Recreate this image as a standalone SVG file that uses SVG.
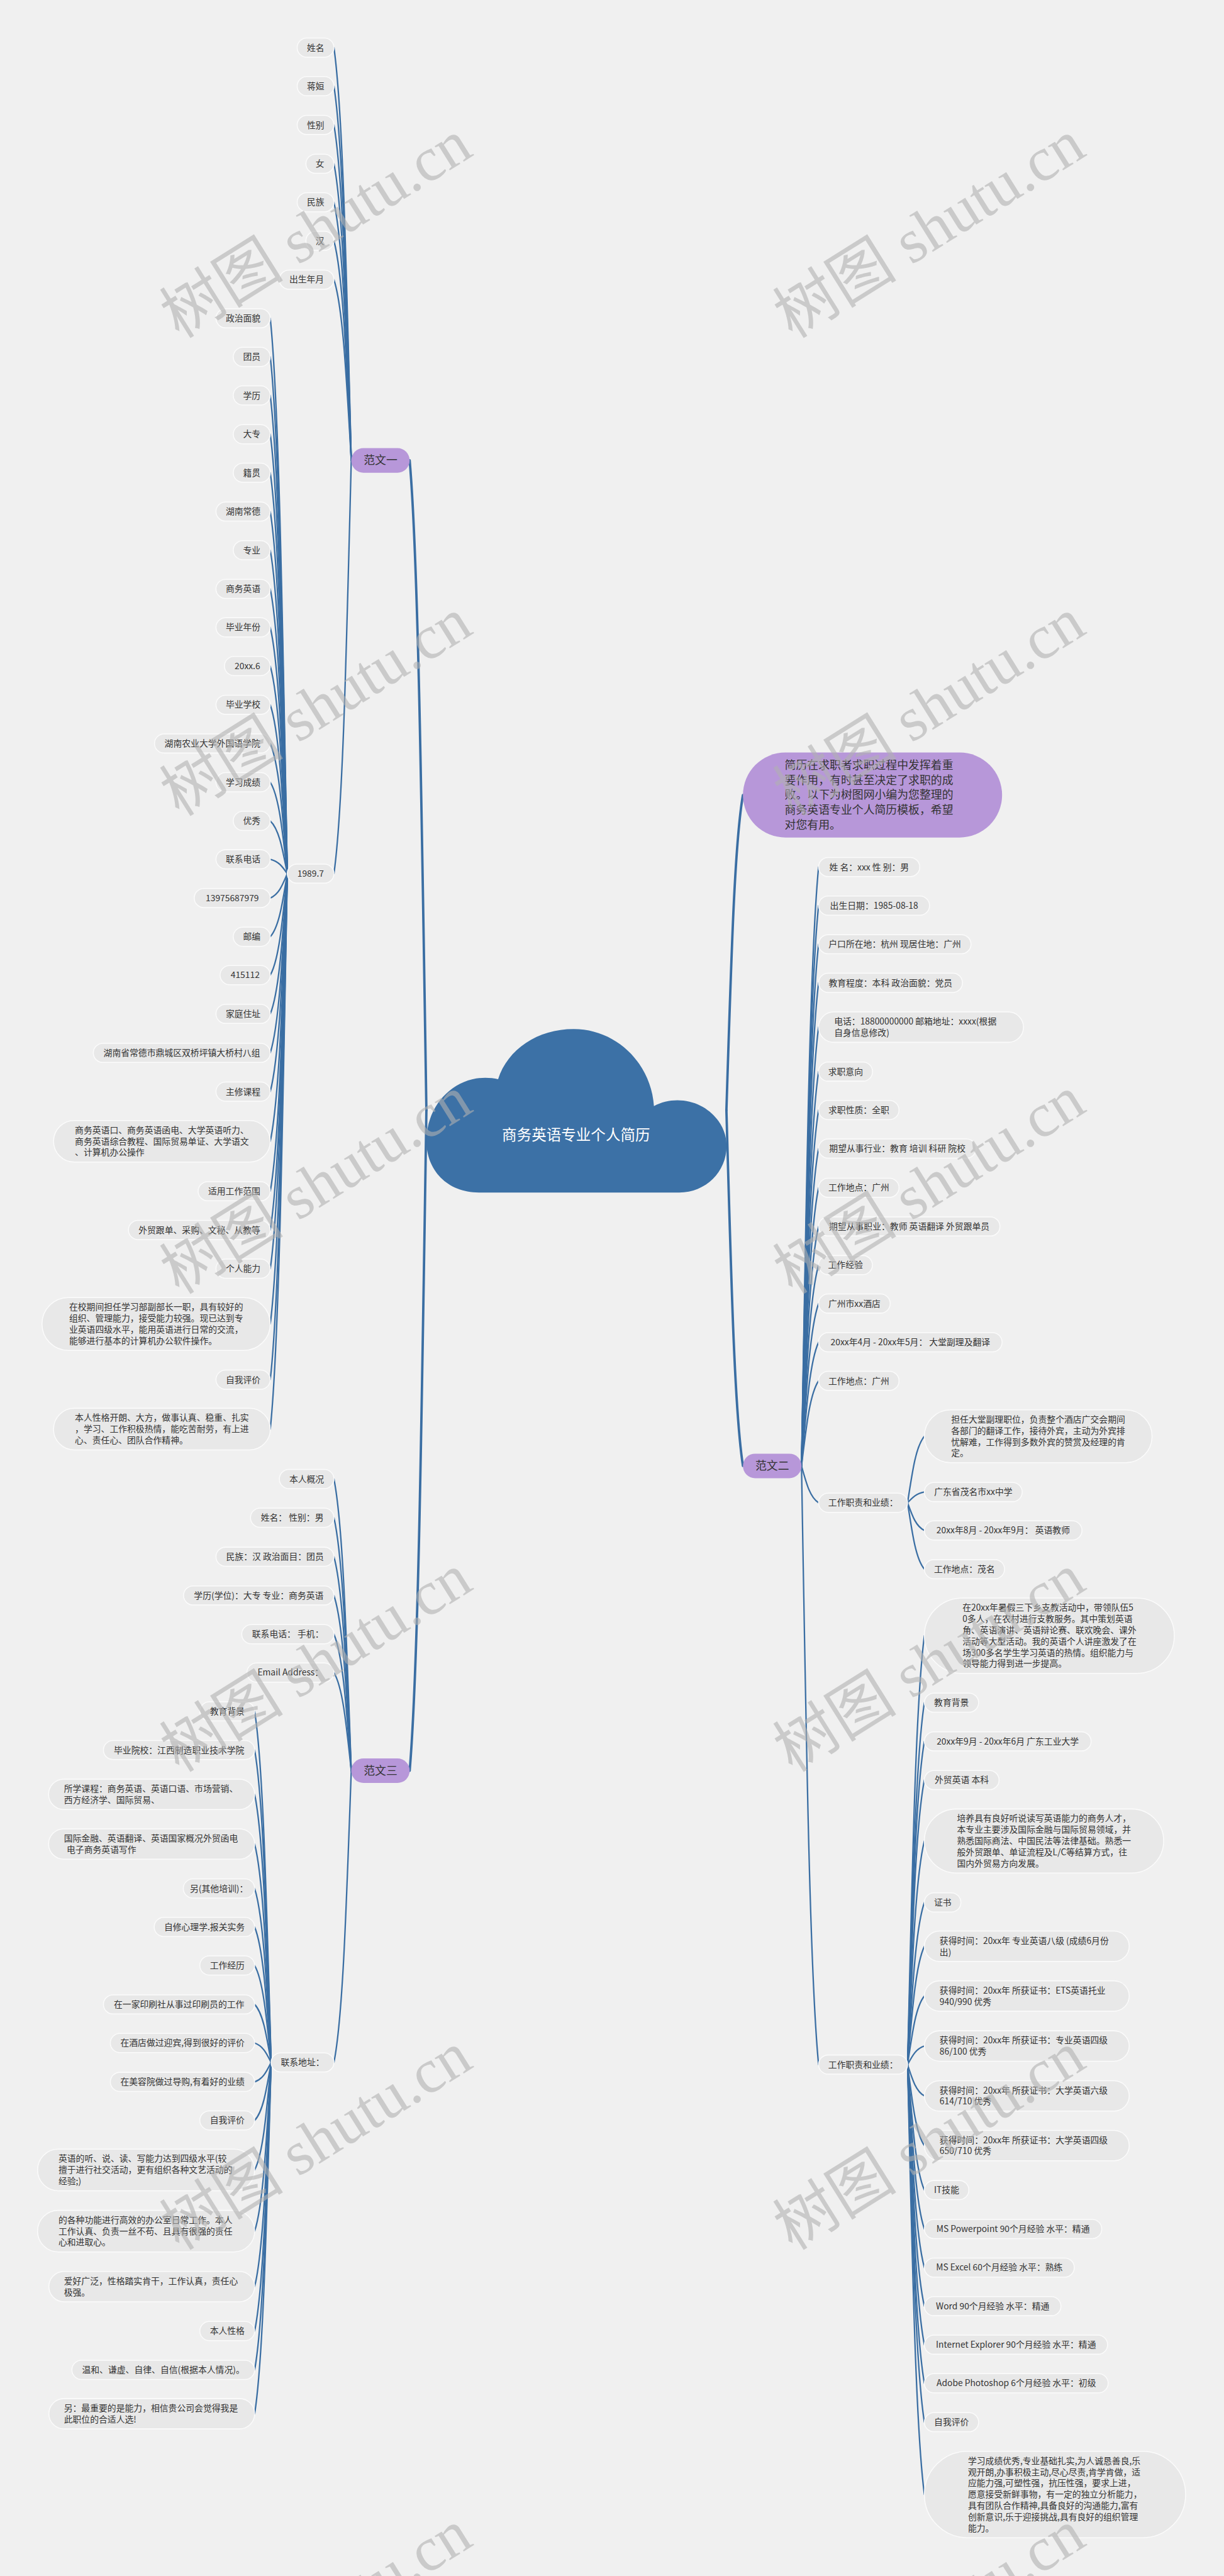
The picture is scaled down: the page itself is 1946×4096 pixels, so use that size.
<svg xmlns="http://www.w3.org/2000/svg" width="1946" height="4096" viewBox="0 0 1946 4096">
<style>
.c{fill:none;stroke:#3a6ea3;stroke-width:3;stroke-linecap:round}
.c0{stroke-width:5}
.p{fill:#e8e8e8;stroke:#fbfbfb;stroke-width:2}
.v{fill:#b797d9}
text{font-family:"Noto Sans CJK SC","Noto Sans",sans-serif;fill:#333}
.t{font-size:18.2px}
.m{text-anchor:middle}
.t1{font-size:23.5px}
.r{font-size:31px;fill:#fff;text-anchor:middle}
.wm{font-family:"Liberation Serif","Noto Sans CJK SC",serif;font-size:130px;fill:#b0b0b0;fill-opacity:.6}
</style>
<rect x="0" y="0" width="1946" height="4096" fill="#f0f0f0"/>
<g transform="scale(0.76)">
<g id="connectors">
<path class="c c0" d="M892 2323 C881.5 1643 874.5 1167 857 963"/>
<path class="c c0" d="M892 2323 C881.5 3013.9 874.5 3497.4 857 3704.7"/>
<path class="c c0" d="M1519.6 2323 C1530 1993.1 1536.9 1762.3 1554.2 1663.3"/>
<path class="c c0" d="M1519.6 2323 C1530 2695 1536.9 2955.4 1554.2 3067"/>
<path class="c" d="M734.8 963 C723.9 531.4 716.7 229.2 698.6 99.7"/>
<path class="c" d="M734.8 963 C723.9 571.7 716.7 297.7 698.6 180.3"/>
<path class="c" d="M734.8 963 C723.9 612.2 716.7 366.6 698.6 261.4"/>
<path class="c" d="M734.8 963 C723.9 652.8 716.7 435.7 698.6 342.6"/>
<path class="c" d="M734.8 963 C723.9 693.1 716.7 504.2 698.6 423.2"/>
<path class="c" d="M734.8 963 C723.9 733.4 716.7 572.7 698.6 503.8"/>
<path class="c" d="M734.8 963 C723.9 774 716.7 641.7 698.6 585"/>
<path class="c" d="M734.8 963 C723.9 1395.4 716.7 1698.1 698.6 1827.8"/>
<path class="c" d="M601 1827.8 C590.3 1246.9 583.2 840.3 565.4 666"/>
<path class="c" d="M601 1827.8 C590.3 1287.3 583.2 908.9 565.4 746.7"/>
<path class="c" d="M601 1827.8 C590.3 1327.6 583.2 977.4 565.4 827.3"/>
<path class="c" d="M601 1827.8 C590.3 1368.2 583.2 1046.4 565.4 908.5"/>
<path class="c" d="M601 1827.8 C590.3 1408.4 583.2 1114.9 565.4 989"/>
<path class="c" d="M601 1827.8 C590.3 1449 583.2 1183.9 565.4 1070.2"/>
<path class="c" d="M601 1827.8 C590.3 1489.5 583.2 1252.6 565.4 1151.1"/>
<path class="c" d="M601 1827.8 C590.3 1530 583.2 1321.5 565.4 1232.1"/>
<path class="c" d="M601 1827.8 C590.3 1570.2 583.2 1389.8 565.4 1312.5"/>
<path class="c" d="M601 1827.8 C590.3 1610.7 583.2 1458.7 565.4 1393.5"/>
<path class="c" d="M601 1827.8 C590.3 1651.2 583.2 1527.5 565.4 1474.5"/>
<path class="c" d="M601 1827.8 C590.3 1691.7 583.2 1596.4 565.4 1555.5"/>
<path class="c" d="M601 1827.8 C590.3 1732.2 583.2 1665.2 565.4 1636.5"/>
<path class="c" d="M601 1827.8 C590.3 1772.7 583.2 1734.1 565.4 1717.5"/>
<path class="c" d="M601 1827.8 C590.3 1812.8 583.2 1802.3 565.4 1797.8"/>
<path class="c" d="M601 1827.8 C590.3 1853.3 583.2 1871.2 565.4 1878.8"/>
<path class="c" d="M601 1827.8 C590.3 1893.8 583.2 1940 565.4 1959.8"/>
<path class="c" d="M601 1827.8 C590.3 1934 583.2 2008.4 565.4 2040.2"/>
<path class="c" d="M601 1827.8 C590.3 1974.5 583.2 2077.2 565.4 2121.2"/>
<path class="c" d="M601 1827.8 C590.3 2015.3 583.2 2146.6 565.4 2202.8"/>
<path class="c" d="M601 1827.8 C590.3 2055.8 583.2 2215.4 565.4 2283.8"/>
<path class="c" d="M601 1827.8 C590.3 2107.8 583.2 2303.8 565.4 2387.8"/>
<path class="c" d="M601 1827.8 C590.3 2160.1 583.2 2392.7 565.4 2492.3"/>
<path class="c" d="M601 1827.8 C590.3 2200.6 583.2 2461.5 565.4 2573.3"/>
<path class="c" d="M601 1827.8 C590.3 2241.1 583.2 2530.4 565.4 2654.3"/>
<path class="c" d="M601 1827.8 C590.3 2298.9 583.2 2628.7 565.4 2770"/>
<path class="c" d="M601 1827.8 C590.3 2357.2 583.2 2727.7 565.4 2886.5"/>
<path class="c" d="M601 1827.8 C590.3 2408.9 583.2 2815.7 565.4 2990"/>
<path class="c" d="M734.8 3704.7 C723.9 3399.6 716.7 3185.9 698.6 3094.4"/>
<path class="c" d="M734.8 3704.7 C723.9 3440.1 716.7 3254.8 698.6 3175.4"/>
<path class="c" d="M734.8 3704.7 C723.9 3480.9 716.7 3324.2 698.6 3257"/>
<path class="c" d="M734.8 3704.7 C723.9 3521.4 716.7 3393 698.6 3338"/>
<path class="c" d="M734.8 3704.7 C723.9 3561.9 716.7 3461.9 698.6 3419"/>
<path class="c" d="M734.8 3704.7 C723.9 3602.1 716.7 3530.2 698.6 3499.4"/>
<path class="c" d="M734.8 3704.7 C723.9 4009.9 716.7 4223.5 698.6 4315"/>
<path class="c" d="M567.2 4315 C556.8 3947.7 550 3690.6 532.7 3580.4"/>
<path class="c" d="M567.2 4315 C556.8 3988.2 550 3759.5 532.7 3661.4"/>
<path class="c" d="M567.2 4315 C556.8 4034.5 550 3838.2 532.7 3754"/>
<path class="c" d="M567.2 4315 C556.8 4086.5 550 3926.6 532.7 3858"/>
<path class="c" d="M567.2 4315 C556.8 4133 550 4005.7 532.7 3951"/>
<path class="c" d="M567.2 4315 C556.8 4173.3 550 4074.2 532.7 4031.6"/>
<path class="c" d="M567.2 4315 C556.8 4213.6 550 4142.7 532.7 4112.2"/>
<path class="c" d="M567.2 4315 C556.8 4254.3 550 4211.9 532.7 4193.6"/>
<path class="c" d="M567.2 4315 C556.8 4294.7 550 4280.4 532.7 4274.3"/>
<path class="c" d="M567.2 4315 C556.8 4335.4 550 4349.6 532.7 4355.7"/>
<path class="c" d="M567.2 4315 C556.8 4375.7 550 4418.2 532.7 4436.3"/>
<path class="c" d="M567.2 4315 C556.8 4427.5 550 4506.3 532.7 4540"/>
<path class="c" d="M567.2 4315 C556.8 4491.5 550 4615.1 532.7 4668"/>
<path class="c" d="M567.2 4315 C556.8 4549.5 550 4713.7 532.7 4784"/>
<path class="c" d="M567.2 4315 C556.8 4596 550 4792.8 532.7 4877"/>
<path class="c" d="M567.2 4315 C556.8 4636.7 550 4861.8 532.7 4958.3"/>
<path class="c" d="M567.2 4315 C556.8 4682.5 550 4939.8 532.7 5050"/>
<path class="c" d="M1676.7 3067 C1687.4 2440.5 1694.5 2002 1712.4 1814"/>
<path class="c" d="M1676.7 3067 C1687.4 2480.9 1694.5 2070.6 1712.4 1894.7"/>
<path class="c" d="M1676.7 3067 C1687.4 2521.3 1694.5 2139.3 1712.4 1975.5"/>
<path class="c" d="M1676.7 3067 C1687.4 2561.6 1694.5 2207.9 1712.4 2056.2"/>
<path class="c" d="M1676.7 3067 C1687.4 2608 1694.5 2286.8 1712.4 2149"/>
<path class="c" d="M1676.7 3067 C1687.4 2654.5 1694.5 2365.8 1712.4 2242"/>
<path class="c" d="M1676.7 3067 C1687.4 2694.7 1694.5 2434.1 1712.4 2322.4"/>
<path class="c" d="M1676.7 3067 C1687.4 2735 1694.5 2502.7 1712.4 2403"/>
<path class="c" d="M1676.7 3067 C1687.4 2776 1694.5 2572.4 1712.4 2485"/>
<path class="c" d="M1676.7 3067 C1687.4 2816.5 1694.5 2641.2 1712.4 2566"/>
<path class="c" d="M1676.7 3067 C1687.4 2856.9 1694.5 2709.9 1712.4 2646.8"/>
<path class="c" d="M1676.7 3067 C1687.4 2897.1 1694.5 2778.2 1712.4 2727.2"/>
<path class="c" d="M1676.7 3067 C1687.4 2937.6 1694.5 2847.1 1712.4 2808.2"/>
<path class="c" d="M1676.7 3067 C1687.4 2978 1694.5 2915.8 1712.4 2889"/>
<path class="c" d="M1676.7 3067 C1687.4 3105.5 1694.5 3132.5 1712.4 3144"/>
<path class="c" d="M1676.7 3067 C1687.4 3693.3 1694.5 4131.7 1712.4 4319.5"/>
<path class="c" d="M1898.6 3144 C1909.1 3074.5 1916.2 3025.9 1933.7 3005"/>
<path class="c" d="M1898.6 3144 C1909.1 3132.8 1916.2 3125 1933.7 3121.6"/>
<path class="c" d="M1898.6 3144 C1909.1 3173 1916.2 3193.3 1933.7 3202"/>
<path class="c" d="M1898.6 3144 C1909.1 3213.5 1916.2 3262.2 1933.7 3283"/>
<path class="c" d="M1898.6 4319.5 C1909.1 3870.9 1916.2 3556.9 1933.7 3422.3"/>
<path class="c" d="M1898.6 4319.5 C1909.1 3940.9 1916.2 3675.9 1933.7 3562.3"/>
<path class="c" d="M1898.6 4319.5 C1909.1 3981.4 1916.2 3744.7 1933.7 3643.3"/>
<path class="c" d="M1898.6 4319.5 C1909.1 4021.9 1916.2 3813.5 1933.7 3724.2"/>
<path class="c" d="M1898.6 4319.5 C1909.1 4085.6 1916.2 3921.9 1933.7 3851.7"/>
<path class="c" d="M1898.6 4319.5 C1909.1 4149.9 1916.2 4031.2 1933.7 3980.3"/>
<path class="c" d="M1898.6 4319.5 C1909.1 4195.8 1916.2 4109.1 1933.7 4072"/>
<path class="c" d="M1898.6 4319.5 C1909.1 4247.8 1916.2 4197.5 1933.7 4176"/>
<path class="c" d="M1898.6 4319.5 C1909.1 4300.1 1916.2 4286.4 1933.7 4280.6"/>
<path class="c" d="M1898.6 4319.5 C1909.1 4352.3 1916.2 4375.2 1933.7 4385"/>
<path class="c" d="M1898.6 4319.5 C1909.1 4404.3 1916.2 4463.6 1933.7 4489"/>
<path class="c" d="M1898.6 4319.5 C1909.1 4450.8 1916.2 4542.6 1933.7 4582"/>
<path class="c" d="M1898.6 4319.5 C1909.1 4491.5 1916.2 4611.9 1933.7 4663.5"/>
<path class="c" d="M1898.6 4319.5 C1909.1 4531.9 1916.2 4680.5 1933.7 4744.2"/>
<path class="c" d="M1898.6 4319.5 C1909.1 4572.2 1916.2 4749.1 1933.7 4824.9"/>
<path class="c" d="M1898.6 4319.5 C1909.1 4612.5 1916.2 4817.6 1933.7 4905.5"/>
<path class="c" d="M1898.6 4319.5 C1909.1 4652.9 1916.2 4886.2 1933.7 4986.2"/>
<path class="c" d="M1898.6 4319.5 C1909.1 4693.6 1916.2 4955.4 1933.7 5067.6"/>
<path class="c" d="M1898.6 4319.5 C1909.1 4769.3 1916.2 5084.1 1933.7 5219"/>
</g>

<g id="root">
<path fill="#3c71a6" d="M1002 2495 C935 2495 892 2448 892 2387 C892 2313 948 2255 1015 2255 C1025 2255 1034 2256 1042 2258 C1062 2195 1125 2153 1200 2153 C1290 2153 1362 2225 1368 2314 C1383 2306 1400 2302 1417 2302 C1475 2302 1520 2347 1520 2397 C1520 2452 1476 2495 1421 2495 Z"/>
<text class="r" x="1205" y="2386">商务英语专业个人简历</text>
</g>

<g id="desc">
<rect class="v" x="1554.2" y="1574.4" width="542.1" height="177.8" rx="88.9"/>
<text class="t1"><tspan x="1641.6" y="1609.6">简历在求职者求职过程中发挥着重</tspan><tspan x="1641.6" y="1640.6">要作用，有时甚至决定了求职的成</tspan><tspan x="1641.6" y="1671.6">败。以下为树图网小编为您整理的</tspan><tspan x="1641.6" y="1702.6">商务英语专业个人简历模板，希望</tspan><tspan x="1641.6" y="1733.6">对您有用。</tspan></text>
</g>

<g id="fanwen1"><rect class="v" x="734.8" y="937.6" width="122.2" height="51.4" rx="25.7"/><text class="t1 m" x="796" y="971.3">范文一</text></g>
<g id="fanwen3"><rect class="v" x="734.8" y="3679" width="122.2" height="51.4" rx="25.7"/><text class="t1 m" x="796" y="3713">范文三</text></g>
<g id="fanwen2"><rect class="v" x="1554.2" y="3041.3" width="122.5" height="51.4" rx="25.7"/><text class="t1 m" x="1615.5" y="3075.3">范文二</text></g>

<g id="a1"><rect class="p" x="621.7" y="79.7" width="76.9" height="40" rx="20"/><text class="t m" x="660.2" y="106.1">姓名</text></g>
<g id="a2"><rect class="p" x="621.7" y="160.3" width="76.9" height="40" rx="20"/><text class="t m" x="660.2" y="186.7">蒋姮</text></g>
<g id="a3"><rect class="p" x="621.7" y="241.4" width="76.9" height="40" rx="20"/><text class="t m" x="660.2" y="267.8">性别</text></g>
<g id="a4"><rect class="p" x="640" y="322.6" width="58.6" height="40" rx="20"/><text class="t m" x="669.3" y="349">女</text></g>
<g id="a5"><rect class="p" x="621.7" y="403.2" width="76.9" height="40" rx="20"/><text class="t m" x="660.2" y="429.6">民族</text></g>
<g id="a6"><rect class="p" x="640" y="483.8" width="58.6" height="40" rx="20"/><text class="t m" x="669.3" y="510.2">汉</text></g>
<g id="a7"><rect class="p" x="584.4" y="565" width="114.2" height="40" rx="20"/><text class="t m" x="641.5" y="591.4">出生年月</text></g>
<g id="a8"><rect class="p" x="601" y="1807.8" width="97.6" height="40" rx="20"/><text class="t m" x="649.8" y="1834.2">1989.7</text></g>

<g id="b1"><rect class="p" x="451.8" y="646" width="113.6" height="40" rx="20"/><text class="t m" x="508.6" y="672.4">政治面貌</text></g>
<g id="b2"><rect class="p" x="488" y="726.7" width="77.4" height="40" rx="20"/><text class="t m" x="526.7" y="753.1">团员</text></g>
<g id="b3"><rect class="p" x="488" y="807.3" width="77.4" height="40" rx="20"/><text class="t m" x="526.7" y="833.7">学历</text></g>
<g id="b4"><rect class="p" x="488" y="888.5" width="77.4" height="40" rx="20"/><text class="t m" x="526.7" y="914.9">大专</text></g>
<g id="b5"><rect class="p" x="488" y="969" width="77.4" height="40" rx="20"/><text class="t m" x="526.7" y="995.4">籍贯</text></g>
<g id="b6"><rect class="p" x="451.8" y="1050.2" width="113.6" height="40" rx="20"/><text class="t m" x="508.6" y="1076.6">湖南常德</text></g>
<g id="b7"><rect class="p" x="488" y="1131.1" width="77.4" height="40" rx="20"/><text class="t m" x="526.7" y="1157.5">专业</text></g>
<g id="b8"><rect class="p" x="451.8" y="1212.1" width="113.6" height="40" rx="20"/><text class="t m" x="508.6" y="1238.5">商务英语</text></g>
<g id="b9"><rect class="p" x="451.8" y="1292.5" width="113.6" height="40" rx="20"/><text class="t m" x="508.6" y="1318.9">毕业年份</text></g>
<g id="b10"><rect class="p" x="469.6" y="1373.5" width="95.8" height="40" rx="20"/><text class="t m" x="517.5" y="1399.9">20xx.6</text></g>
<g id="b11"><rect class="p" x="451.8" y="1454.5" width="113.6" height="40" rx="20"/><text class="t m" x="508.6" y="1480.9">毕业学校</text></g>
<g id="b12"><rect class="p" x="323.2" y="1535.5" width="242.2" height="40" rx="20"/><text class="t m" x="444.3" y="1561.9">湖南农业大学外国语学院</text></g>
<g id="b13"><rect class="p" x="451.8" y="1616.5" width="113.6" height="40" rx="20"/><text class="t m" x="508.6" y="1642.9">学习成绩</text></g>
<g id="b14"><rect class="p" x="488" y="1697.5" width="77.4" height="40" rx="20"/><text class="t m" x="526.7" y="1723.9">优秀</text></g>
<g id="b15"><rect class="p" x="451.8" y="1777.8" width="113.6" height="40" rx="20"/><text class="t m" x="508.6" y="1804.2">联系电话</text></g>
<g id="b16"><rect class="p" x="406.4" y="1858.8" width="159" height="40" rx="20"/><text class="t m" x="485.9" y="1885.2">13975687979</text></g>
<g id="b17"><rect class="p" x="488" y="1939.8" width="77.4" height="40" rx="20"/><text class="t m" x="526.7" y="1966.2">邮编</text></g>
<g id="b18"><rect class="p" x="460.4" y="2020.2" width="105" height="40" rx="20"/><text class="t m" x="512.9" y="2046.6">415112</text></g>
<g id="b19"><rect class="p" x="451.8" y="2101.2" width="113.6" height="40" rx="20"/><text class="t m" x="508.6" y="2127.6">家庭住址</text></g>
<g id="b20"><rect class="p" x="195.2" y="2182.8" width="370.2" height="40" rx="20"/><text class="t m" x="380.3" y="2209.2">湖南省常德市鼎城区双桥坪镇大桥村八组</text></g>
<g id="b21"><rect class="p" x="451.8" y="2263.8" width="113.6" height="40" rx="20"/><text class="t m" x="508.6" y="2290.2">主修课程</text></g>
<g id="b22"><rect class="p" x="112" y="2344.3" width="453.4" height="87" rx="43.5"/><text class="t"><tspan x="156.7" y="2370.7">商务英语口、商务英语函电、大学英语听力、</tspan><tspan x="156.7" y="2394.2">商务英语综合教程、国际贸易单证、大学语文</tspan><tspan x="156.7" y="2417.7">、计算机办公操作</tspan></text></g>
<g id="b23"><rect class="p" x="414.5" y="2472.3" width="150.9" height="40" rx="20"/><text class="t m" x="490" y="2498.7">适用工作范围</text></g>
<g id="b24"><rect class="p" x="268.7" y="2553.3" width="296.7" height="40" rx="20"/><text class="t m" x="417.1" y="2579.7">外贸跟单、采购、文秘、从教等</text></g>
<g id="b25"><rect class="p" x="451.8" y="2634.3" width="113.6" height="40" rx="20"/><text class="t m" x="508.6" y="2660.7">个人能力</text></g>
<g id="b26"><rect class="p" x="87.8" y="2714.75" width="477.6" height="110.5" rx="55.25"/><text class="t"><tspan x="144.7" y="2741.2">在校期间担任学习部副部长一职，具有较好的</tspan><tspan x="144.7" y="2764.7">组织、管理能力，接受能力较强。现已达到专</tspan><tspan x="144.7" y="2788.2">业英语四级水平，能用英语进行日常的交流，</tspan><tspan x="144.7" y="2811.7">能够进行基本的计算机办公软件操作。</tspan></text></g>
<g id="b27"><rect class="p" x="451.8" y="2866.5" width="113.6" height="40" rx="20"/><text class="t m" x="508.6" y="2892.9">自我评价</text></g>
<g id="b28"><rect class="p" x="112" y="2946.5" width="453.4" height="87" rx="43.5"/><text class="t"><tspan x="156.7" y="2972.9">本人性格开朗、大方，做事认真、稳重、扎实</tspan><tspan x="156.7" y="2996.4">，学习、工作积极热情，能吃苦耐劳，有上进</tspan><tspan x="156.7" y="3019.9">心、责任心、团队合作精神。</tspan></text></g>

<g id="c1"><rect class="p" x="584.4" y="3074.4" width="114.2" height="40" rx="20"/><text class="t m" x="641.5" y="3100.8">本人概况</text></g>
<g id="c2"><rect class="p" x="524" y="3155.4" width="174.6" height="40" rx="20"/><text class="t m" x="611.3" y="3181.8">姓名： 性别：男</text></g>
<g id="c3"><rect class="p" x="451.8" y="3237" width="246.8" height="40" rx="20"/><text class="t m" x="575.2" y="3263.4">民族：汉 政治面目：团员</text></g>
<g id="c4"><rect class="p" x="384" y="3318" width="314.6" height="40" rx="20"/><text class="t m" x="541.3" y="3344.4">学历(学位)：大专 专业：商务英语</text></g>
<g id="c5"><rect class="p" x="505.7" y="3399" width="192.9" height="40" rx="20"/><text class="t m" x="602.2" y="3425.4">联系电话： 手机：</text></g>
<g id="c6"><rect class="p" x="516.6" y="3479.4" width="182" height="40" rx="20"/><text class="t m" x="607.6" y="3505.8">Email Address：</text></g>
<g id="c7"><rect class="p" x="567.2" y="4295" width="131.4" height="40" rx="20"/><text class="t m" x="632.9" y="4321.4">联系地址：</text></g>

<g id="d1"><rect class="p" x="418" y="3560.4" width="114.7" height="40" rx="20"/><text class="t m" x="475.4" y="3586.8">教育背景</text></g>
<g id="d2"><rect class="p" x="216.4" y="3641.4" width="316.3" height="40" rx="20"/><text class="t m" x="374.6" y="3667.8">毕业院校：江西制造职业技术学院</text></g>
<g id="d3"><rect class="p" x="101.6" y="3722.25" width="431.1" height="63.5" rx="31.75"/><text class="t"><tspan x="133.8" y="3748.65">所学课程：商务英语、英语口语、市场营销、</tspan><tspan x="133.8" y="3772.15">西方经济学、国际贸易、</tspan></text></g>
<g id="d4"><rect class="p" x="101.6" y="3826.25" width="431.1" height="63.5" rx="31.75"/><text class="t"><tspan x="133.8" y="3852.65">国际金融、英语翻译、英语国家概况外贸函电</tspan><tspan x="139.5" y="3876.15">电子商务英语写作</tspan></text></g>
<g id="d5"><rect class="p" x="383.5" y="3931" width="149.2" height="40" rx="20"/><text class="t m" x="458.1" y="3957.4">另(其他培训)：</text></g>
<g id="d6"><rect class="p" x="322.6" y="4011.6" width="210.1" height="40" rx="20"/><text class="t m" x="427.7" y="4038">自修心理学.报关实务</text></g>
<g id="d7"><rect class="p" x="418" y="4092.2" width="114.7" height="40" rx="20"/><text class="t m" x="475.4" y="4118.6">工作经历</text></g>
<g id="d8"><rect class="p" x="216.4" y="4173.6" width="316.3" height="40" rx="20"/><text class="t m" x="374.6" y="4200">在一家印刷社从事过印刷员的工作</text></g>
<g id="d9"><rect class="p" x="230.8" y="4254.3" width="301.9" height="40" rx="20"/><text class="t m" x="381.8" y="4280.7">在酒店做过迎宾,得到很好的评价</text></g>
<g id="d10"><rect class="p" x="230.8" y="4335.7" width="301.9" height="40" rx="20"/><text class="t m" x="381.8" y="4362.1">在美容院做过导购,有着好的业绩</text></g>
<g id="d11"><rect class="p" x="418" y="4416.3" width="114.7" height="40" rx="20"/><text class="t m" x="475.4" y="4442.7">自我评价</text></g>
<g id="d12"><rect class="p" x="78.6" y="4496.5" width="454.1" height="87" rx="43.5"/><text class="t"><tspan x="122.3" y="4522.9">英语的听、说、读、写能力达到四级水平(较</tspan><tspan x="122.3" y="4546.4">擅于进行社交活动，更有组织各种文艺活动的</tspan><tspan x="122.3" y="4569.9">经验;)</tspan></text></g>
<g id="d13"><rect class="p" x="78.6" y="4624.5" width="454.1" height="87" rx="43.5"/><text class="t"><tspan x="122.3" y="4650.9">的各种功能进行高效的办公室日常工作。本人</tspan><tspan x="122.3" y="4674.4">工作认真、负责一丝不苟、且具有很强的责任</tspan><tspan x="122.3" y="4697.9">心和进取心。</tspan></text></g>
<g id="d14"><rect class="p" x="102.2" y="4752.25" width="430.5" height="63.5" rx="31.75"/><text class="t"><tspan x="133.8" y="4778.65">爱好广泛，性格踏实肯干，工作认真，责任心</tspan><tspan x="133.8" y="4802.15">极强。</tspan></text></g>
<g id="d15"><rect class="p" x="418" y="4857" width="114.7" height="40" rx="20"/><text class="t m" x="475.4" y="4883.4">本人性格</text></g>
<g id="d16"><rect class="p" x="150.4" y="4938.3" width="382.3" height="40" rx="20"/><text class="t m" x="341.6" y="4964.7">温和、谦虚、自律、自信(根据本人情况)。</text></g>
<g id="d17"><rect class="p" x="102.2" y="5018.25" width="430.5" height="63.5" rx="31.75"/><text class="t"><tspan x="133.8" y="5044.65">另：最重要的是能力，相信贵公司会觉得我是</tspan><tspan x="133.8" y="5068.15">此职位的合适人选!</tspan></text></g>

<g id="e1"><rect class="p" x="1712.4" y="1794" width="211.6" height="40" rx="20"/><text class="t m" x="1818.2" y="1820.4">姓 名：xxx 性 别：男</text></g>
<g id="e2"><rect class="p" x="1712.4" y="1874.7" width="232.1" height="40" rx="20"/><text class="t m" x="1828.5" y="1901.1">出生日期：1985-08-18</text></g>
<g id="e3"><rect class="p" x="1712.4" y="1955.5" width="318.8" height="40" rx="20"/><text class="t m" x="1871.8" y="1981.9">户口所在地：杭州 现居住地：广州</text></g>
<g id="e4"><rect class="p" x="1712.4" y="2036.2" width="301" height="40" rx="20"/><text class="t m" x="1862.9" y="2062.6">教育程度：本科 政治面貌：党员</text></g>
<g id="e5"><rect class="p" x="1712.4" y="2117.25" width="428.6" height="63.5" rx="31.75"/><text class="t"><tspan x="1745" y="2143.65">电话：18800000000 邮箱地址：xxxx(根据</tspan><tspan x="1745" y="2167.15">自身信息修改)</tspan></text></g>
<g id="e6"><rect class="p" x="1712.4" y="2222" width="112.9" height="40" rx="20"/><text class="t m" x="1768.9" y="2248.4">求职意向</text></g>
<g id="e7"><rect class="p" x="1712.4" y="2302.4" width="168.3" height="40" rx="20"/><text class="t m" x="1796.6" y="2328.8">求职性质：全职</text></g>
<g id="e8"><rect class="p" x="1712.4" y="2383" width="329.6" height="40" rx="20"/><text class="t m" x="1877.2" y="2409.4">期望从事行业：教育 培训 科研 院校</text></g>
<g id="e9"><rect class="p" x="1712.4" y="2465" width="168.3" height="40" rx="20"/><text class="t m" x="1796.6" y="2491.4">工作地点：广州</text></g>
<g id="e10"><rect class="p" x="1712.4" y="2546" width="379.4" height="40" rx="20"/><text class="t m" x="1902.1" y="2572.4">期望从事职业：教师 英语翻译 外贸跟单员</text></g>
<g id="e11"><rect class="p" x="1712.4" y="2626.8" width="112.6" height="40" rx="20"/><text class="t m" x="1768.7" y="2653.2">工作经验</text></g>
<g id="e12"><rect class="p" x="1712.4" y="2707.2" width="149.8" height="40" rx="20"/><text class="t m" x="1787.3" y="2733.6">广州市xx酒店</text></g>
<g id="e13"><rect class="p" x="1712.4" y="2788.2" width="383.9" height="40" rx="20"/><text class="t m" x="1904.4" y="2814.6">20xx年4月 - 20xx年5月： 大堂副理及翻译</text></g>
<g id="e14"><rect class="p" x="1712.4" y="2869" width="168.3" height="40" rx="20"/><text class="t m" x="1796.6" y="2895.4">工作地点：广州</text></g>
<g id="e15"><rect class="p" x="1712.4" y="3124" width="186.2" height="40" rx="20"/><text class="t m" x="1805.5" y="3150.4">工作职责和业绩：</text></g>
<g id="e16"><rect class="p" x="1712.4" y="4299.5" width="186.2" height="40" rx="20"/><text class="t m" x="1805.5" y="4325.9">工作职责和业绩：</text></g>

<g id="f1"><rect class="p" x="1933.7" y="2949.75" width="476.3" height="110.5" rx="55.25"/><text class="t"><tspan x="1989.8" y="2976.15">担任大堂副理职位，负责整个酒店广交会期间</tspan><tspan x="1989.8" y="2999.65">各部门的翻译工作，接待外宾，主动为外宾排</tspan><tspan x="1989.8" y="3023.15">忧解难，工作得到多数外宾的赞赏及经理的肯</tspan><tspan x="1989.8" y="3046.65">定。</tspan></text></g>
<g id="f2"><rect class="p" x="1933.7" y="3101.6" width="204.7" height="40" rx="20"/><text class="t m" x="2036.1" y="3128">广东省茂名市xx中学</text></g>
<g id="f3"><rect class="p" x="1933.7" y="3182" width="329.7" height="40" rx="20"/><text class="t m" x="2098.6" y="3208.4">20xx年8月 - 20xx年9月： 英语教师</text></g>
<g id="f4"><rect class="p" x="1933.7" y="3263" width="167.7" height="40" rx="20"/><text class="t m" x="2017.6" y="3289.4">工作地点：茂名</text></g>

<g id="g1"><rect class="p" x="1933.7" y="3343.55" width="522.9" height="157.5" rx="78.75"/><text class="t"><tspan x="2013.4" y="3369.95">在20xx年暑假三下乡支教活动中，带领队伍5</tspan><tspan x="2013.4" y="3393.45">0多人，在农村进行支教服务。其中策划英语</tspan><tspan x="2013.4" y="3416.95">角、英语演讲、英语辩论赛、联欢晚会、课外</tspan><tspan x="2013.4" y="3440.45">活动等大型活动。我的英语个人讲座激发了在</tspan><tspan x="2013.4" y="3463.95">场300多名学生学习英语的热情。组织能力与</tspan><tspan x="2013.4" y="3487.45">领导能力得到进一步提高。</tspan></text></g>
<g id="g2"><rect class="p" x="1933.7" y="3542.3" width="113.5" height="40" rx="20"/><text class="t m" x="1990.5" y="3568.7">教育背景</text></g>
<g id="g3"><rect class="p" x="1933.7" y="3623.3" width="348.8" height="40" rx="20"/><text class="t m" x="2108.1" y="3649.7">20xx年9月 - 20xx年6月 广东工业大学</text></g>
<g id="g4"><rect class="p" x="1933.7" y="3704.2" width="156.3" height="40" rx="20"/><text class="t m" x="2011.9" y="3730.6">外贸英语 本科</text></g>
<g id="g5"><rect class="p" x="1933.7" y="3784.7" width="500.6" height="134" rx="67"/><text class="t"><tspan x="2002" y="3811.1">培养具有良好听说读写英语能力的商务人才，</tspan><tspan x="2002" y="3834.6">本专业主要涉及国际金融与国际贸易领域，并</tspan><tspan x="2002" y="3858.1">熟悉国际商法、中国民法等法律基础。熟悉一</tspan><tspan x="2002" y="3881.6">般外贸跟单、单证流程及L/C等结算方式，往</tspan><tspan x="2002" y="3905.1">国内外贸易方向发展。</tspan></text></g>
<g id="g6"><rect class="p" x="1933.7" y="3960.3" width="76.5" height="40" rx="20"/><text class="t m" x="1972" y="3986.7">证书</text></g>
<g id="g7"><rect class="p" x="1933.7" y="4040.25" width="428.5" height="63.5" rx="31.75"/><text class="t"><tspan x="1965.6" y="4066.65">获得时间：20xx年 专业英语八级 (成绩6月份</tspan><tspan x="1965.6" y="4090.15">出)</tspan></text></g>
<g id="g8"><rect class="p" x="1933.7" y="4144.25" width="428.5" height="63.5" rx="31.75"/><text class="t"><tspan x="1965.6" y="4170.65">获得时间：20xx年 所获证书：ETS英语托业</tspan><tspan x="1965.6" y="4194.15">940/990 优秀</tspan></text></g>
<g id="g9"><rect class="p" x="1933.7" y="4248.85" width="428.5" height="63.5" rx="31.75"/><text class="t"><tspan x="1965.6" y="4275.25">获得时间：20xx年 所获证书：专业英语四级</tspan><tspan x="1965.6" y="4298.75">86/100 优秀</tspan></text></g>
<g id="g10"><rect class="p" x="1933.7" y="4353.25" width="428.5" height="63.5" rx="31.75"/><text class="t"><tspan x="1965.6" y="4379.65">获得时间：20xx年 所获证书：大学英语六级</tspan><tspan x="1965.6" y="4403.15">614/710 优秀</tspan></text></g>
<g id="g11"><rect class="p" x="1933.7" y="4457.25" width="428.5" height="63.5" rx="31.75"/><text class="t"><tspan x="1965.6" y="4483.65">获得时间：20xx年 所获证书：大学英语四级</tspan><tspan x="1965.6" y="4507.15">650/710 优秀</tspan></text></g>
<g id="g12"><rect class="p" x="1933.7" y="4562" width="93.1" height="40" rx="20"/><text class="t m" x="1980.3" y="4588.4">IT技能</text></g>
<g id="g13"><rect class="p" x="1933.7" y="4643.5" width="371.1" height="40" rx="20"/><text class="t m" x="2119.3" y="4669.9">MS Powerpoint 90个月经验 水平：精通</text></g>
<g id="g14"><rect class="p" x="1933.7" y="4724.2" width="313.7" height="40" rx="20"/><text class="t m" x="2090.6" y="4750.6">MS Excel 60个月经验 水平：熟练</text></g>
<g id="g15"><rect class="p" x="1933.7" y="4804.9" width="285.7" height="40" rx="20"/><text class="t m" x="2076.6" y="4831.3">Word 90个月经验 水平：精通</text></g>
<g id="g16"><rect class="p" x="1933.7" y="4885.5" width="383.3" height="40" rx="20"/><text class="t m" x="2125.4" y="4911.9">Internet Explorer 90个月经验 水平：精通</text></g>
<g id="g17"><rect class="p" x="1933.7" y="4966.2" width="384.5" height="40" rx="20"/><text class="t m" x="2126" y="4992.6">Adobe Photoshop 6个月经验 水平：初级</text></g>
<g id="g18"><rect class="p" x="1933.7" y="5047.6" width="113.5" height="40" rx="20"/><text class="t m" x="1990.5" y="5074">自我评价</text></g>
<g id="g19"><rect class="p" x="1933.7" y="5128.5" width="546.5" height="181" rx="90.5"/><text class="t"><tspan x="2024.9" y="5154.9">学习成绩优秀,专业基础扎实,为人诚恳善良,乐</tspan><tspan x="2024.9" y="5178.4">观开朗,办事积极主动,尽心尽责,肯学肯做，适</tspan><tspan x="2024.9" y="5201.9">应能力强,可塑性强，抗压性强，要求上进，</tspan><tspan x="2024.9" y="5225.4">愿意接受新鲜事物，有一定的独立分析能力，</tspan><tspan x="2024.9" y="5248.9">具有团队合作精神,具备良好的沟通能力,富有</tspan><tspan x="2024.9" y="5272.4">创新意识,乐于迎接挑战,具有良好的组织管理</tspan><tspan x="2024.9" y="5295.9">能力。</tspan></text></g>

<g id="watermarks">
<text class="wm" x="375" y="710" transform="rotate(-32 375 710)">树图 shutu.cn</text>
<text class="wm" x="1658" y="710" transform="rotate(-32 1658 710)">树图 shutu.cn</text>
<text class="wm" x="375" y="1710" transform="rotate(-32 375 1710)">树图 shutu.cn</text>
<text class="wm" x="1658" y="1710" transform="rotate(-32 1658 1710)">树图 shutu.cn</text>
<text class="wm" x="375" y="2710" transform="rotate(-32 375 2710)">树图 shutu.cn</text>
<text class="wm" x="1658" y="2710" transform="rotate(-32 1658 2710)">树图 shutu.cn</text>
<text class="wm" x="375" y="3710" transform="rotate(-32 375 3710)">树图 shutu.cn</text>
<text class="wm" x="1658" y="3710" transform="rotate(-32 1658 3710)">树图 shutu.cn</text>
<text class="wm" x="375" y="4710" transform="rotate(-32 375 4710)">树图 shutu.cn</text>
<text class="wm" x="1658" y="4710" transform="rotate(-32 1658 4710)">树图 shutu.cn</text>
<text class="wm" x="375" y="5710" transform="rotate(-32 375 5710)">树图 shutu.cn</text>
<text class="wm" x="1658" y="5710" transform="rotate(-32 1658 5710)">树图 shutu.cn</text>
</g>
</g>
</svg>
